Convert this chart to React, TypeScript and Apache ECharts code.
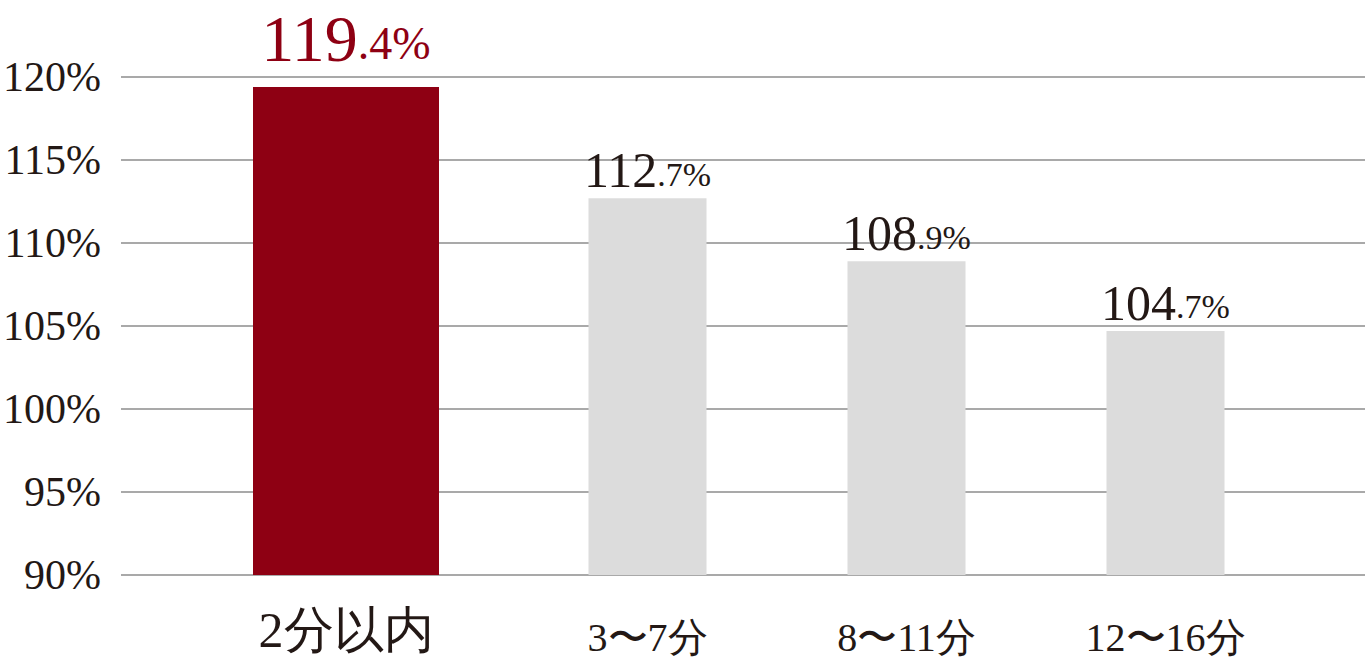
import { useEffect, useRef } from 'react'
import * as echarts from 'echarts'

const categories = ['2分以内', '3〜7分', '8〜11分', '12〜16分']
const values = [119.4, 112.7, 108.9, 104.7]
const yTicks = [90, 95, 100, 105, 110, 115, 120]

const RED = '#8e0013'
const GRAY = '#dcdcdc'
const INK = '#231815'
const FONT = '"Liberation Serif", "Times New Roman", serif'

// 整数部と小数部を分けて、小数部を小さく表示する
const valueLabel = (params: any) => {
  const [int, dec] = Number(params.value).toFixed(1).split('.')
  return `{i|${int}}{d|.${dec}%}`
}

export default function App() {
  const chartRef = useRef<HTMLDivElement>(null)

  useEffect(() => {
    if (!chartRef.current) return
    document.body.style.margin = '0'

    const chart = echarts.init(chartRef.current, undefined, { renderer: 'svg' })

    const yRange = {
      type: 'value' as const,
      min: yTicks[0],
      max: yTicks[yTicks.length - 1],
      interval: yTicks[1] - yTicks[0]
    }

    const option: echarts.EChartsOption = {
      animation: false,
      grid: [
        { left: 113, right: 0, top: 77, bottom: 85 },
        { left: 216, width: 260, top: 77, bottom: 85 },
        { left: 518, width: 777, top: 77, bottom: 85 }
      ],
      xAxis: [
        { gridIndex: 0, type: 'category', data: [], show: false },
        {
          gridIndex: 1,
          type: 'category',
          data: categories.slice(0, 1),
          axisLine: { show: false },
          axisTick: { show: false },
          axisLabel: { fontSize: 50, color: INK, fontFamily: FONT, margin: 30 }
        },
        {
          gridIndex: 2,
          type: 'category',
          data: categories.slice(1),
          axisLine: { show: false },
          axisTick: { show: false },
          axisLabel: { fontSize: 40, color: INK, fontFamily: FONT, margin: 42 }
        }
      ],
      yAxis: [
        {
          gridIndex: 0,
          ...yRange,
          axisLine: { show: false },
          axisTick: { show: false },
          axisLabel: {
            formatter: '{value}%',
            fontSize: 42,
            color: INK,
            fontFamily: FONT,
            margin: 20
          },
          splitLine: { lineStyle: { color: '#a9a9a9', width: 2 } }
        },
        { gridIndex: 1, ...yRange, show: false },
        { gridIndex: 2, ...yRange, show: false }
      ],
      series: [
        {
          type: 'bar',
          xAxisIndex: 1,
          yAxisIndex: 1,
          data: values.slice(0, 1),
          barWidth: 186,
          itemStyle: { color: RED },
          label: {
            show: true,
            position: 'top',
            distance: 15,
            formatter: valueLabel,
            rich: {
              i: { fontSize: 66, color: RED, fontFamily: FONT, verticalAlign: 'bottom' },
              d: { fontSize: 46, color: RED, fontFamily: FONT, verticalAlign: 'bottom', padding: [0, 0, 5, 0] }
            }
          }
        },
        {
          type: 'bar',
          xAxisIndex: 2,
          yAxisIndex: 2,
          data: values.slice(1),
          barWidth: 118,
          itemStyle: { color: GRAY },
          label: {
            show: true,
            position: 'top',
            distance: 3,
            formatter: valueLabel,
            rich: {
              i: { fontSize: 50, color: INK, fontFamily: FONT, verticalAlign: 'bottom' },
              d: { fontSize: 34, color: INK, fontFamily: FONT, verticalAlign: 'bottom', padding: [0, 0, 4, 0] }
            }
          }
        }
      ]
    }

    chart.setOption(option)

    const handleResize = () => chart.resize()
    window.addEventListener('resize', handleResize)

    return () => {
      window.removeEventListener('resize', handleResize)
      chart.dispose()
    }
  }, [])

  return <div ref={chartRef} style={{ width: '100vw', height: '100vh' }} />
}
